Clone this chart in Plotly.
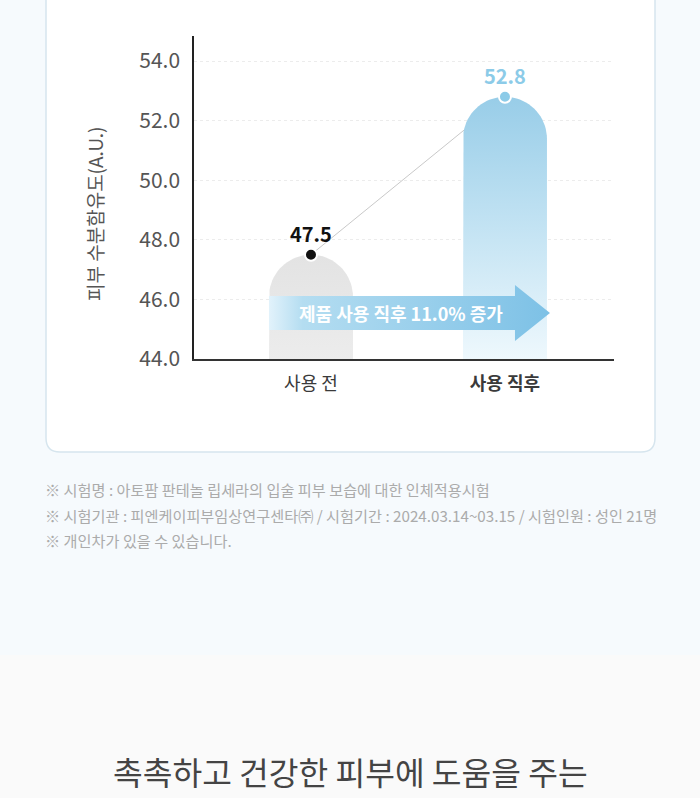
import plotly.graph_objects as go
import numpy as np

# ---- data ----
categories = ["사용 전", "사용 직후"]
values = [47.5, 52.8]
y_ticks = [44.0, 46.0, 48.0, 50.0, 52.0, 54.0]
y_title = "피부 수분함유도(A.U.)"
arrow_text = "제품 사용 직후 11.0% 증가"
notes = [
    "※ 시험명 : 아토팜 판테놀 립세라의 입술 피부 보습에 대한 인체적용시험",
    "※ 시험기관 : 피엔케이피부임상연구센타㈜ / 시험기간 : 2024.03.14~03.15 / 시험인원 : 성인 21명",
    "※ 개인차가 있을 수 있습니다.",
]
headline = "촉촉하고 건강한 피부에 도움을 주는"

FONT = "Noto Sans CJK KR, Noto Sans, sans-serif"
W, H = 700, 798
ML, MR, MT, MB = 194, 86, 36, 439
PW, PH = W - ML - MR, H - MT - MB
XR = [-0.603, 1.562]
YR = [44.0, 54.84]

def pxx(px):
    return (px - ML) / PW

def pyy(py):
    return (H - MB - py) / PH

x_per_px = (XR[1] - XR[0]) / PW
y_per_px = (YR[1] - YR[0]) / PH
half_w = 42 * x_per_px
r_y = 42 * y_per_px

def bar_path(xc, top, base):
    xs = [xc - half_w, xc - half_w]
    ys = [base, top - r_y]
    t = np.linspace(np.pi, 0, 40)
    xs += list(xc + half_w * np.cos(t))
    ys += list(top - r_y + r_y * np.sin(t))
    xs += [xc + half_w, xc - half_w]
    ys += [base, base]
    return xs, ys

fig = go.Figure()
xpos = list(range(len(categories)))

# connecting line (behind bars)
fig.add_trace(go.Scatter(x=xpos, y=values, mode="lines",
                         line=dict(color="#c9c9c9", width=1), hoverinfo="skip"))

bar_scales = [
    [[0, "#ececec"], [1, "#e3e3e3"]],
    [[0, "#eef8fd"], [0.5, "#c3e3f3"], [1, "#98cde8"]],
]
for i, v in enumerate(values):
    xs, ys = bar_path(xpos[i], v, YR[0])
    fig.add_trace(go.Scatter(x=xs, y=ys, mode="lines", fill="toself",
                             line=dict(width=0, color="rgba(0,0,0,0)"),
                             fillgradient=dict(type="vertical", colorscale=bar_scales[i]),
                             hoverinfo="skip"))

# arrow overlay (decoration) spanning from first bar to second bar
ax0 = xpos[0] - half_w
ax_head0 = xpos[1] + 10 * x_per_px
ax_tip = xpos[1] + 45 * x_per_px
yc = YR[0] + 46 * y_per_px
bh = 17 * y_per_px
hh = 28 * y_per_px
arrow_x = [ax0, ax_head0, ax_head0, ax_tip, ax_head0, ax_head0, ax0, ax0]
arrow_y = [yc + bh, yc + bh, yc + hh, yc, yc - hh, yc - bh, yc - bh, yc + bh]
fig.add_trace(go.Scatter(x=arrow_x, y=arrow_y, mode="lines", fill="toself",
                         line=dict(width=0, color="rgba(0,0,0,0)"),
                         fillgradient=dict(type="horizontal",
                                           colorscale=[[0, "#e2f2fb"], [0.12, "#b4ddf1"], [1, "#7dc1e6"]]),
                         hoverinfo="skip"))

# dots
dot_colors = ["#111111", "#8ccbe8"]
fig.add_trace(go.Scatter(x=xpos, y=values, mode="markers",
                         marker=dict(size=12, color=dot_colors, line=dict(color="white", width=2)),
                         hoverinfo="skip"))

label_colors = ["#111111", "#8ccbe8"]
for i, v in enumerate(values):
    fig.add_annotation(x=xpos[i], y=v, text=f"<b>{v:.1f}</b>", showarrow=False,
                       yshift=21, font=dict(family=FONT, size=20, color=label_colors[i]))

fig.add_annotation(x=(ax0 + ax_tip) / 2 - 8 * x_per_px, y=yc, text=f"<b>{arrow_text}</b>",
                   showarrow=False, font=dict(family=FONT, size=18, color="white"))

# y title
fig.add_annotation(xref="paper", yref="paper", x=pxx(95), y=pyy(214), text=y_title,
                   textangle=-90, showarrow=False, xanchor="center", yanchor="middle",
                   font=dict(family=FONT, size=19, color="#555555"))

# footnotes
for k, t in enumerate(notes):
    fig.add_annotation(xref="paper", yref="paper", x=pxx(43), y=pyy(489 + 25.5 * k),
                       xanchor="left", yanchor="middle", text=t, showarrow=False,
                       font=dict(family=FONT, size=15.2, color="#ababab"))

fig.add_annotation(xref="paper", yref="paper", x=pxx(350), y=pyy(771),
                   xanchor="center", yanchor="middle", text=headline, showarrow=False,
                   font=dict(family=FONT, size=32.3, color="#444444"))

def rounded_rect(x0, y0, x1, y1, r):
    rx = r / PW
    ry = r / PH
    X0, X1 = pxx(x0), pxx(x1)
    Y0, Y1 = pyy(y0), pyy(y1)
    return (f"M {X0},{Y0} L {X1},{Y0} L {X1},{Y1 + ry} Q {X1},{Y1} {X1 - rx},{Y1} "
            f"L {X0 + rx},{Y1} Q {X0},{Y1} {X0},{Y1 + ry} Z")

fig.add_shape(type="rect", xref="paper", yref="paper", x0=pxx(-5), x1=pxx(705),
              y0=pyy(655), y1=pyy(805), fillcolor="#fafafa", line=dict(width=0), layer="below")
fig.add_shape(type="path", xref="paper", yref="paper", path=rounded_rect(46, -20, 655, 452, 14),
              fillcolor="white", line=dict(color="#d6e5ee", width=1.5), layer="below")

fig.update_layout(
    width=W, height=H,
    margin=dict(l=ML, r=MR, t=MT, b=MB),
    paper_bgcolor="#f6fafd",
    plot_bgcolor="rgba(0,0,0,0)",
    showlegend=False,
    xaxis=dict(range=XR, tickvals=xpos,
               ticktext=[categories[0], f"<b>{categories[1]}</b>"],
               showgrid=False, zeroline=False, showline=True, linecolor="#333333", linewidth=1.5,
               ticks="outside", ticklen=8, tickcolor="rgba(0,0,0,0)",
               tickfont=dict(family=FONT, size=18, color="#3a3a3a")),
    yaxis=dict(range=YR, tickvals=y_ticks, tickformat=".1f",
               showgrid=True, gridcolor="#ececec", griddash="dot", gridwidth=1,
               zeroline=False, showline=True, linecolor="#222222", linewidth=1.5,
               ticks="outside", ticklen=8, tickcolor="rgba(0,0,0,0)",
               tickfont=dict(family=FONT, size=21, color="#555555")),
)

fig.write_html("out.html")
